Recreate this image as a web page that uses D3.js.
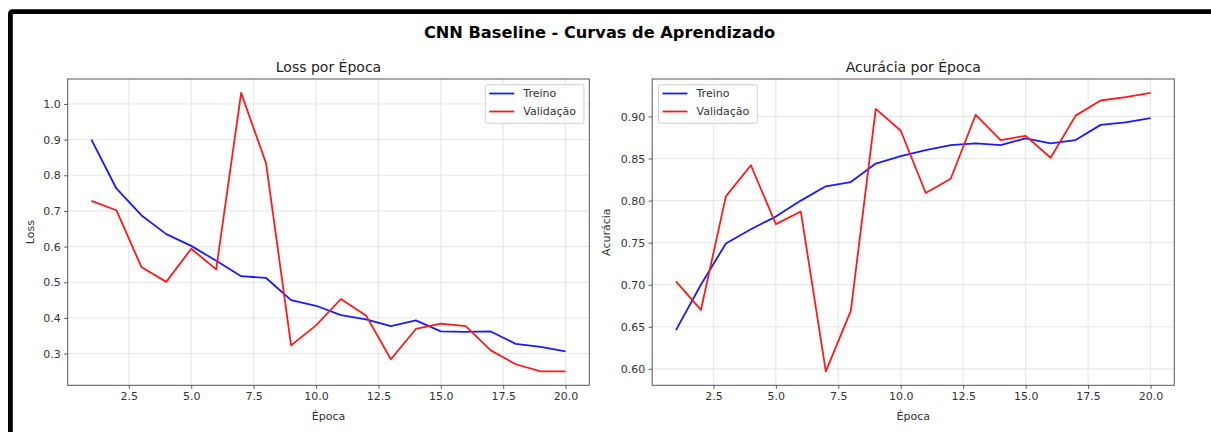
<!DOCTYPE html>
<html><head><meta charset="utf-8">
<script src="https://cdn.jsdelivr.net/npm/d3@7"></script>
<style>
html,body{margin:0;padding:0;background:#fff;}
svg{display:block;font-family:"DejaVu Sans",sans-serif;}
</style></head>
<body>
<svg id="chart" width="1211" height="432"></svg>
<script>
const epochs = d3.range(1, 21);
const lossTrain = [0.900,0.763,0.688,0.635,0.602,0.560,0.517,0.512,0.450,0.434,0.408,0.396,0.377,0.393,0.362,0.361,0.362,0.327,0.319,0.306];
const lossVal   = [0.728,0.702,0.543,0.501,0.594,0.536,1.031,0.833,0.323,0.379,0.453,0.407,0.284,0.369,0.384,0.377,0.309,0.270,0.250,0.250];
const accTrain  = [0.646,0.700,0.749,0.766,0.781,0.800,0.817,0.822,0.844,0.853,0.860,0.866,0.868,0.866,0.874,0.868,0.872,0.890,0.893,0.898];
const accVal    = [0.704,0.670,0.805,0.842,0.772,0.787,0.597,0.669,0.909,0.883,0.809,0.826,0.902,0.872,0.877,0.851,0.901,0.919,0.923,0.928];
const xTicks = [2.5,5,7.5,10,12.5,15,17.5,20];
const lossTicks = [0.3,0.4,0.5,0.6,0.7,0.8,0.9,1.0];
const accTicks = [0.60,0.65,0.70,0.75,0.80,0.85,0.90];
const seriesNames = ["Treino","Validação"];
const seriesColors = ["#1a1aff","#ff1a1a"];
const suptitle = "CNN Baseline - Curvas de Aprendizado";

const svg = d3.select("#chart");

// frame
svg.append("rect").attr("x",10.4).attr("y",11.7).attr("width",1400).attr("height",700)
  .attr("rx",2).attr("fill","none").attr("stroke","#000").attr("stroke-width",4.8);

svg.append("text").attr("x",599.5).attr("y",38).attr("text-anchor","middle")
  .attr("font-weight","bold").attr("font-size",16.2).attr("fill","#000").text(suptitle);

function pad(ext){const r=ext[1]-ext[0];return [ext[0]-0.05*r, ext[1]+0.05*r];}

function panel(cfg){
  const x = d3.scaleLinear().domain(pad(d3.extent(epochs))).range([cfg.x0,cfg.x1]);
  const y = d3.scaleLinear().domain(pad(d3.extent(cfg.a.concat(cfg.b)))).range([cfg.y1,cfg.y0]);
  const g = svg.append("g");
  // grid
  g.append("g").selectAll("line").data(cfg.xt).join("line")
    .attr("x1",d=>x(d)).attr("x2",d=>x(d)).attr("y1",cfg.y0).attr("y2",cfg.y1)
    .attr("stroke","#e3e3e3").attr("stroke-width",0.9);
  g.append("g").selectAll("line").data(cfg.yt).join("line")
    .attr("y1",d=>y(d)).attr("y2",d=>y(d)).attr("x1",cfg.x0).attr("x2",cfg.x1)
    .attr("stroke","#e3e3e3").attr("stroke-width",0.9);
  // lines
  const line = d3.line().x((d,i)=>x(epochs[i])).y(d=>y(d));
  [cfg.a,cfg.b].forEach((s,k)=>{
    g.append("path").datum(s).attr("d",line).attr("fill","none")
      .attr("stroke",seriesColors[k]).attr("stroke-width",1.8).attr("stroke-linejoin","round");
  });
  // axes
  const ax = g.append("g").attr("transform",`translate(0,${cfg.y1})`)
    .call(d3.axisBottom(x).tickValues(cfg.xt).tickFormat(d3.format(".1f")).tickSizeOuter(0).tickSize(3.5).tickPadding(3.5));
  const ay = g.append("g").attr("transform",`translate(${cfg.x0},0)`)
    .call(d3.axisLeft(y).tickValues(cfg.yt).tickFormat(d3.format(cfg.yf)).tickSizeOuter(0).tickSize(3.5).tickPadding(3.5));
  [ax,ay].forEach(a=>{
    a.select(".domain").remove();
    a.selectAll("line").attr("stroke","#444").attr("stroke-width",0.9);
    a.selectAll("text").attr("font-size",11).attr("fill","#333").attr("font-family","DejaVu Sans");
  });
  g.append("rect").attr("x",cfg.x0).attr("y",cfg.y0).attr("width",cfg.x1-cfg.x0).attr("height",cfg.y1-cfg.y0)
    .attr("fill","none").attr("stroke","#555").attr("stroke-width",1);
  // titles
  g.append("text").attr("x",(cfg.x0+cfg.x1)/2).attr("y",71.5).attr("text-anchor","middle")
    .attr("font-size",14).attr("fill","#222").text(cfg.title);
  g.append("text").attr("x",(cfg.x0+cfg.x1)/2).attr("y",419.5).attr("text-anchor","middle")
    .attr("font-size",11).attr("fill","#333").text("Época");
  g.append("text").attr("transform",`translate(${cfg.ylx},${(cfg.y0+cfg.y1)/2}) rotate(-90)`)
    .attr("text-anchor","middle").attr("font-size",11).attr("fill","#333").text(cfg.ylabel);
  // legend
  const L = g.append("g").attr("transform",`translate(${cfg.lx},${cfg.ly})`);
  L.append("rect").attr("x",0).attr("y",0).attr("width",98.7).attr("height",38.6).attr("rx",2.5)
    .attr("fill","#fff").attr("fill-opacity",0.85).attr("stroke","#d0d0d0").attr("stroke-width",1);
  seriesNames.forEach((n,k)=>{
    const yy = 8.8 + k*18;
    L.append("line").attr("x1",4).attr("x2",29).attr("y1",yy).attr("y2",yy)
      .attr("stroke",seriesColors[k]).attr("stroke-width",1.8);
    L.append("text").attr("x",38).attr("y",yy+4).attr("font-size",11).attr("fill","#333").text(n);
  });
}

panel({x0:67.7,x1:589.3,y0:79,y1:385.3,a:lossTrain,b:lossVal,xt:xTicks,yt:lossTicks,yf:".1f",
  title:"Loss por Época",ylabel:"Loss",ylx:34,lx:485.3,ly:84.7});
panel({x0:652.2,x1:1174.3,y0:79,y1:385.3,a:accTrain,b:accVal,xt:xTicks,yt:accTicks,yf:".2f",
  title:"Acurácia por Época",ylabel:"Acurácia",ylx:609.5,lx:658.5,ly:84.7});
</script>
</body></html>
